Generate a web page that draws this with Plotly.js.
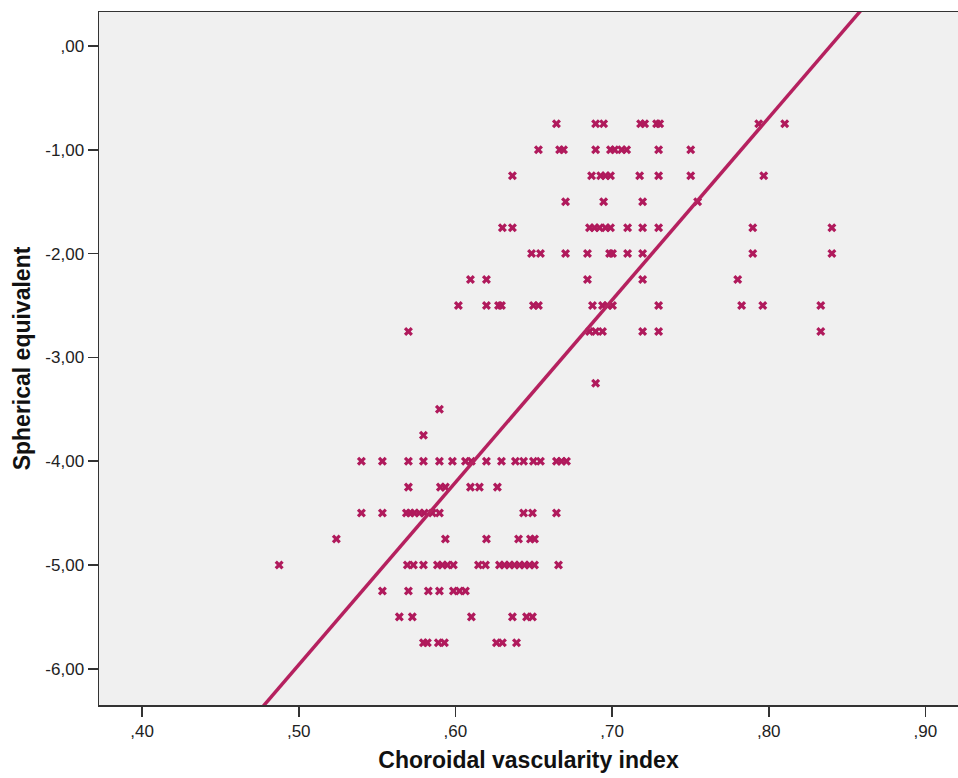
<!DOCTYPE html>
<html>
<head>
<meta charset="utf-8">
<script src="https://cdn.plot.ly/plotly-3.0.1.min.js"></script>
<style>html,body{margin:0;padding:0;background:#fff;}#chart{width:958px;height:778px;}</style>
</head>
<body>
<div id="chart"></div>
<script>
// Spherical equivalent levels (rows) and choroidal vascularity index values at each level
const seLevels = [-0.75, -1.00, -1.25, -1.50, -1.75, -2.00, -2.25, -2.50, -2.75, -3.25, -3.50, -3.75, -4.00, -4.25, -4.50, -4.75, -5.00, -5.25, -5.50, -5.75];
const cviByLevel = [
  [0.6645, 0.6895, 0.6946, 0.7182, 0.7208, 0.7284, 0.7304, 0.7936, 0.8102],
  [0.653, 0.6665, 0.669, 0.6895, 0.699, 0.7016, 0.7061, 0.7093, 0.7297, 0.7502],
  [0.6364, 0.6869, 0.6927, 0.6958, 0.699, 0.7176, 0.7297, 0.7502, 0.7968],
  [0.6703, 0.6946, 0.7195, 0.7546],
  [0.630, 0.6364, 0.6856, 0.6888, 0.692, 0.6958, 0.699, 0.7099, 0.7195, 0.7297, 0.7898, 0.8403],
  [0.6486, 0.6543, 0.6703, 0.6843, 0.6984, 0.7003, 0.7099, 0.7195, 0.7898, 0.8403],
  [0.6096, 0.6198, 0.6843, 0.7195, 0.7802],
  [0.6019, 0.6198, 0.6275, 0.6294, 0.6498, 0.653, 0.6875, 0.6939, 0.6971, 0.7003, 0.7297, 0.7827, 0.7962, 0.8332],
  [0.570, 0.6856, 0.6895, 0.6939, 0.7195, 0.7297, 0.8332],
  [0.6895],
  [0.5898],
  [0.5796],
  [0.540, 0.5534, 0.570, 0.5796, 0.5898, 0.5981, 0.6064, 0.6102, 0.6198, 0.6294, 0.6383, 0.6435, 0.6498, 0.6543, 0.6645, 0.6677, 0.6709],
  [0.570, 0.5904, 0.5936, 0.6096, 0.6153, 0.6268],
  [0.540, 0.5534, 0.5687, 0.5712, 0.5738, 0.577, 0.5802, 0.5853, 0.5898, 0.6435, 0.6492, 0.6645],
  [0.524, 0.5936, 0.6198, 0.6403, 0.6479, 0.6505],
  [0.4875, 0.5693, 0.5732, 0.5796, 0.5885, 0.5917, 0.5949, 0.5987, 0.6147, 0.6192, 0.6281, 0.6313, 0.6345, 0.6377, 0.6409, 0.6441, 0.6473, 0.6505, 0.6658],
  [0.5534, 0.570, 0.5827, 0.5898, 0.5987, 0.6026, 0.6064],
  [0.5642, 0.5725, 0.6102, 0.6364, 0.6454, 0.6492],
  [0.5796, 0.5821, 0.5891, 0.593, 0.6262, 0.630, 0.639]
];
// Fit line (linear regression) parameters
const fitIntercept = -14.747;
const fitSlope = 17.57;
const fitXEnds = [0.40, 0.90];

// Tick labels
const xTickVals = [0.40, 0.50, 0.60, 0.70, 0.80, 0.90];
const xTickText = [",40", ",50", ",60", ",70", ",80", ",90"];
const yTickVals = [0, -1, -2, -3, -4, -5, -6];
const yTickText = [",00", "-1,00", "-2,00", "-3,00", "-4,00", "-5,00", "-6,00"];

const xs = [], ys = [];
seLevels.forEach((lv, i) => cviByLevel[i].forEach(v => { xs.push(v); ys.push(lv); }));

const fitY = fitXEnds.map(x => fitIntercept + fitSlope * x);

const ink = '#b01a5c';
const data = [
  {x: xs, y: ys, type: 'scatter', mode: 'markers',
   marker: {symbol: 'x', size: 8, color: ink, line: {width: 0}}, hoverinfo: 'x+y'},
  {x: fitXEnds, y: fitY, type: 'scatter', mode: 'lines',
   line: {color: '#b5215f', width: 3.5}, hoverinfo: 'skip'}
];

const font = 'Arial, "Liberation Sans", sans-serif';
const layout = {
  width: 958, height: 778,
  margin: {l: 99, r: 0, t: 12, b: 73},
  paper_bgcolor: '#ffffff',
  plot_bgcolor: '#f0f0f0',
  showlegend: false,
  font: {family: font, color: '#222', size: 17},
  xaxis: {
    range: [0.3725, 0.9208],
    tickvals: xTickVals, ticktext: xTickText,
    ticks: 'outside', ticklen: 10, tickwidth: 1.5, tickcolor: '#333',
    showgrid: false, zeroline: false,
    showline: true, mirror: true, linecolor: '#333', linewidth: 1.5,
    tickfont: {family: font, size: 17, color: '#222'},
    title: {text: '<b>Choroidal vascularity index</b>', font: {family: font, size: 23, color: '#111'}, standoff: 12}
  },
  yaxis: {
    range: [-6.349, 0.3276],
    tickvals: yTickVals, ticktext: yTickText,
    ticks: 'outside', ticklen: 10, tickwidth: 1.5, tickcolor: '#333',
    showgrid: false, zeroline: false,
    showline: true, mirror: false, linecolor: '#333', linewidth: 1.5,
    tickfont: {family: font, size: 17, color: '#222'},
    title: {text: '<b>Spherical equivalent</b>', font: {family: font, size: 23, color: '#111'}, standoff: 8}
  }
};

Plotly.newPlot('chart', data, layout, {displayModeBar: false, staticPlot: true});
</script>
</body>
</html>
